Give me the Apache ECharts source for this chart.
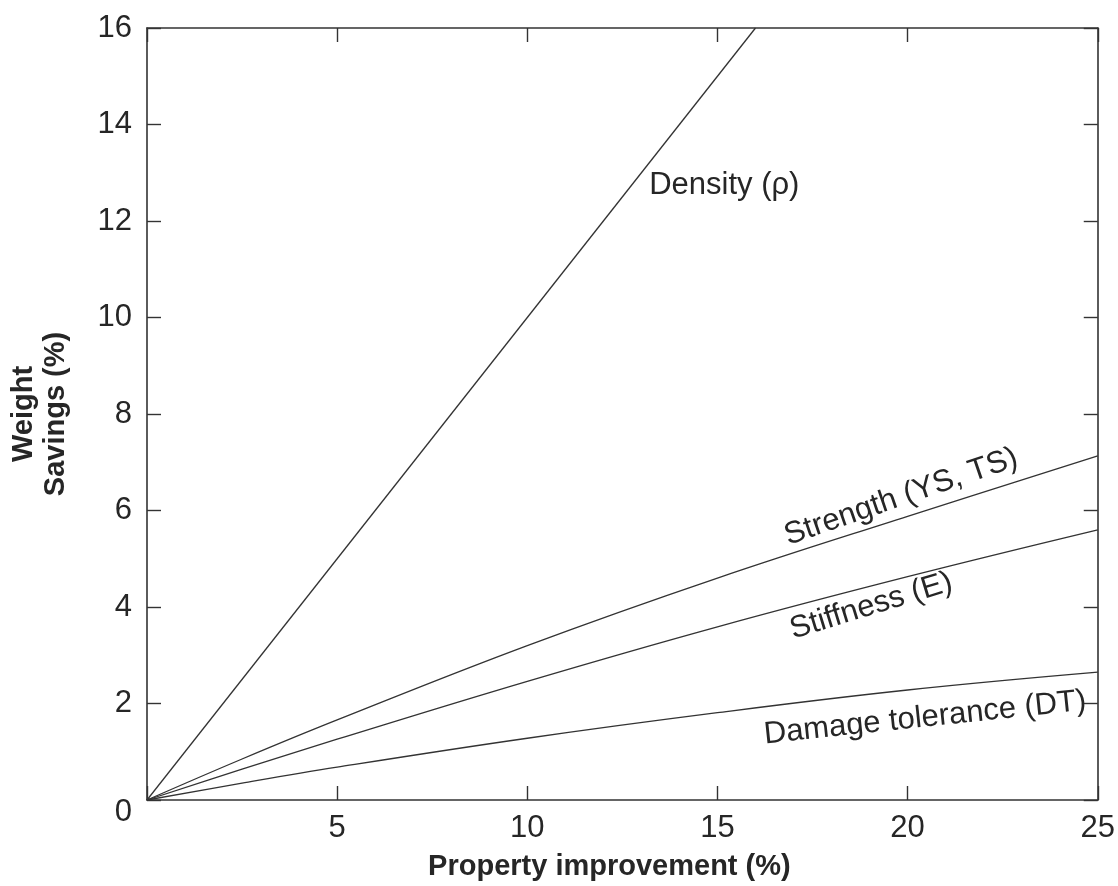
<!DOCTYPE html>
<html>
<head>
<meta charset="utf-8">
<script src="https://cdn.jsdelivr.net/npm/echarts@6/dist/echarts.min.js"></script>
<style>
html,body{margin:0;padding:0;background:#fff;}
#chart{width:1118px;height:886px;}
</style>
</head>
<body>
<div id="chart"></div>
<script>
// Data
const propertyImprovement = [0, 2.5, 5, 10, 15, 20, 25];
const densitySavings = [[0, 0], [16, 16]];
const strengthSavings = [0, 0.85, 1.66, 3.20, 4.60, 5.88, 7.13];
const stiffnessSavings = [0, 0.64, 1.26, 2.46, 3.59, 4.63, 5.60];
const damageToleranceSavings = [0, 0.35, 0.68, 1.28, 1.81, 2.28, 2.65];
const xTicks = [5, 10, 15, 20, 25];
const yTicks = [0, 2, 4, 6, 8, 10, 12, 14, 16];
const curveNames = ['Density (\u03c1)', 'Strength (YS, TS)', 'Stiffness (E)', 'Damage tolerance (DT)'];
const labelAnchors = [[15.18, 12.73], [19.83, 6.28], [19.04, 4.02], [20.46, 1.70]];
const labelAngles = [0, 19, 17, 6];

const FONT = '"Liberation Sans", Arial, Helvetica, sans-serif';
const AX = '#333';
const TXT = '#262626';
const pair = (ys) => propertyImprovement.map((x, i) => [x, ys[i]]);

const lineStyle = {color: '#333', width: 1.3};
const mkLine = (name, data, smooth) => ({
  name, type: 'line', data, smooth, symbol: 'none', lineStyle, xAxisIndex: 0, yAxisIndex: 0, z: 3,
  clip: true
});

const chart = echarts.init(document.getElementById('chart'), null, {renderer: 'canvas'});
const axisBase = {
  type: 'value',
  axisLine: {show: true, onZero: false, lineStyle: {color: AX, width: 1.6}},
  axisTick: {show: true, inside: true, length: 14, lineStyle: {color: AX, width: 1.4}},
  splitLine: {show: false}
};
chart.setOption({
  animation: false,
  backgroundColor: '#fff',
  grid: {left: 147, right: 19, top: 28, bottom: 86, containLabel: false},
  xAxis: [
    Object.assign({}, axisBase, {
      min: 0, max: 25, interval: 5, position: 'bottom',
      axisLabel: {margin: 13, fontSize: 31, color: TXT, fontFamily: FONT,
        formatter: v => xTicks.includes(v) ? String(v) : ''},
      name: 'Property improvement (%)', nameLocation: 'middle', nameGap: 52,
      nameTextStyle: {fontSize: 29, fontWeight: 'bold', color: TXT, fontFamily: FONT, padding: [0, 26, 0, 0]}
    }),
    Object.assign({}, axisBase, {
      min: 0, max: 25, interval: 5, position: 'top', axisLabel: {show: false}
    })
  ],
  yAxis: [
    Object.assign({}, axisBase, {
      min: 0, max: 16, interval: 2, position: 'left',
      axisLabel: {margin: 15, fontSize: 31, color: TXT, fontFamily: FONT,
        formatter: v => yTicks.includes(v) ? (v === 0 ? '{z|0}' : String(v)) : '',
        rich: {z: {fontSize: 31, color: TXT, fontFamily: FONT, padding: [24, 0, 0, 0]}}},
      name: 'Weight\nSavings (%)', nameLocation: 'middle', nameGap: 75, nameRotate: 90,
      nameTextStyle: {fontSize: 29, fontWeight: 'bold', color: TXT, fontFamily: FONT, lineHeight: 32}
    }),
    Object.assign({}, axisBase, {
      min: 0, max: 16, interval: 2, position: 'right', axisLabel: {show: false}
    })
  ],
  series: [
    mkLine(curveNames[0], densitySavings, false),
    mkLine(curveNames[1], pair(strengthSavings), 0.4),
    mkLine(curveNames[2], pair(stiffnessSavings), 0.4),
    mkLine(curveNames[3], pair(damageToleranceSavings), 0.4)
  ]
});

const texts = curveNames.map((n, i) => {
  const p = chart.convertToPixel({xAxisIndex: 0, yAxisIndex: 0}, labelAnchors[i]);
  return {
    type: 'text', x: p[0], y: p[1], rotation: labelAngles[i] * Math.PI / 180, z: 10,
    style: {text: n, fill: TXT, font: '31px ' + FONT, align: 'center', verticalAlign: 'middle'}
  };
});
chart.setOption({graphic: texts});
</script>
</body>
</html>
